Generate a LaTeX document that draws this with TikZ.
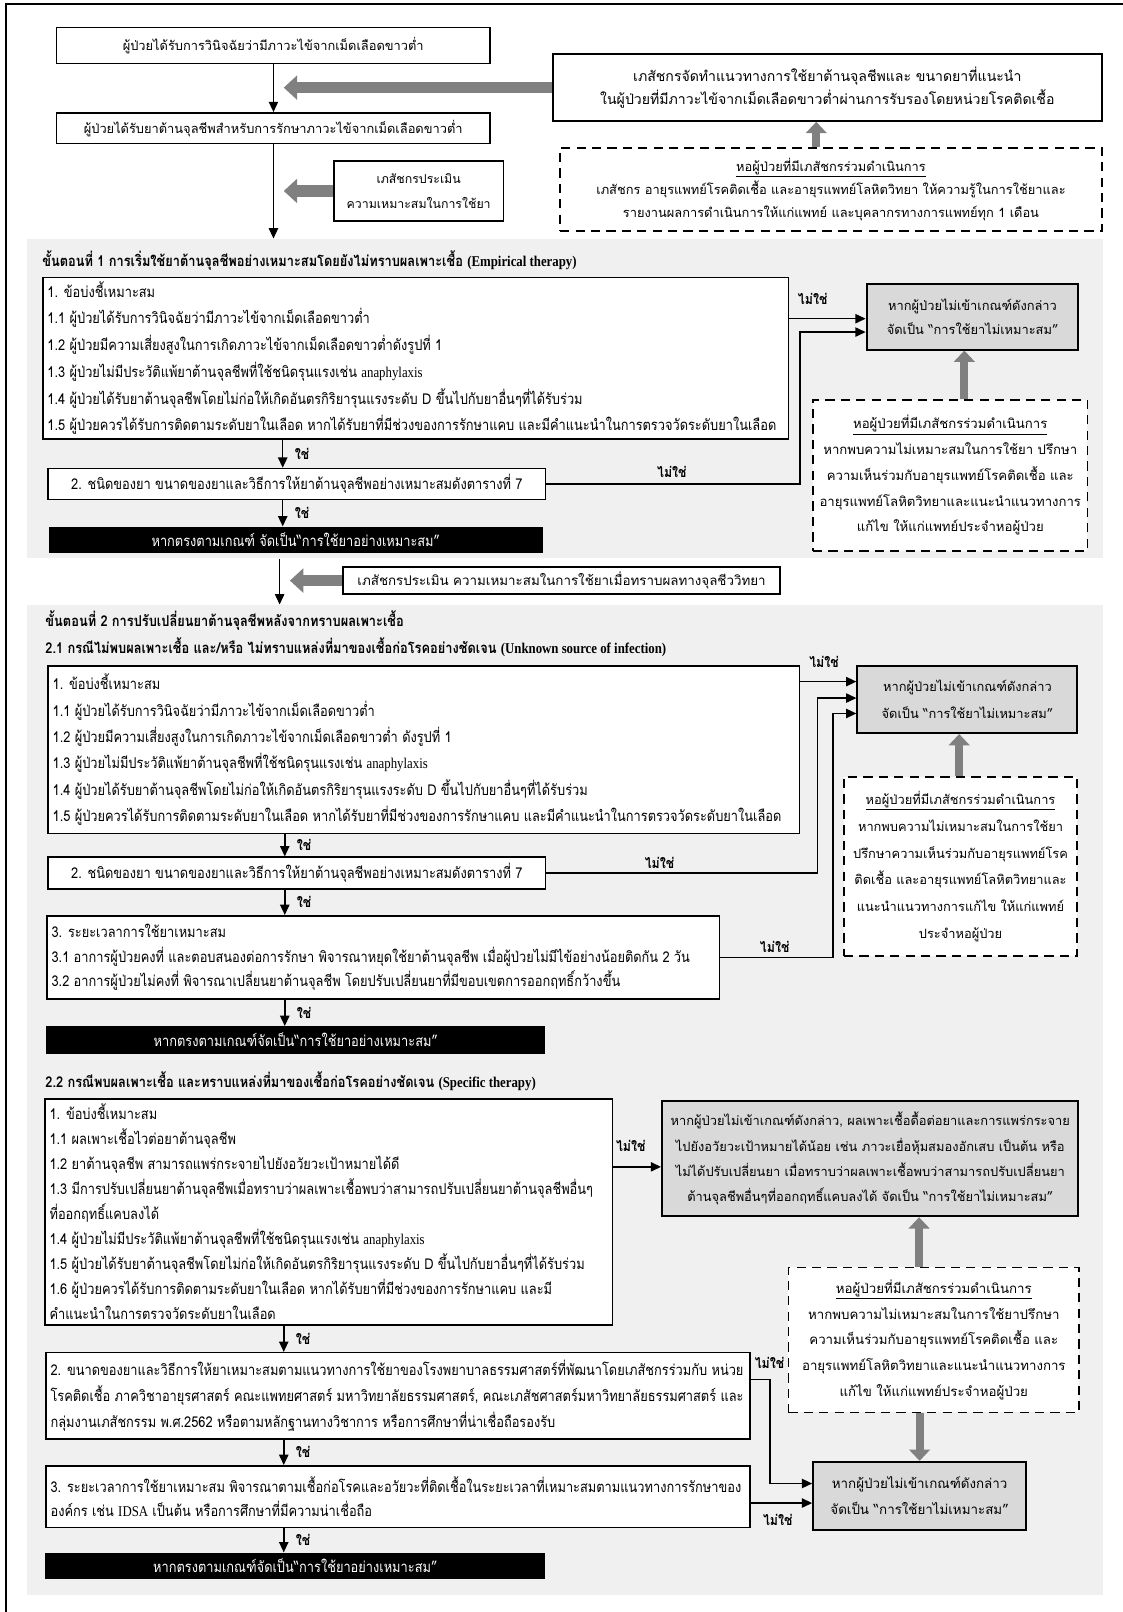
\documentclass[tikz,border=0pt]{standalone}
\usepackage{fontspec}
\setmainfont{Loma}[Script=Thai, FakeStretch=0.86]
\newfontfamily\widefam{Loma}[Script=Thai]
\newfontfamily\enf{Liberation Serif}[FakeStretch=0.86]
\usetikzlibrary{arrows.meta}
\definecolor{secbgc}{HTML}{F0F0F0}
\definecolor{gboxc}{HTML}{D9D9D9}
\definecolor{garrc}{HTML}{808080}
\newcommand\en[1]{{\enf #1}}
\newcommand\bodyf{\fontsize{14.5}{26}\selectfont}
\newcommand\widef{\widefam\fontsize{12.5}{22}\selectfont}
\newcommand\lblf{\bfseries\fontsize{14}{16}\selectfont}
\begin{document}
\begin{tikzpicture}[x=1pt,y=-1pt,
  secbg/.style={fill=secbgc, anchor=north west, inner sep=0pt},
  box/.style={draw, line width=1.5pt, fill=white, inner sep=0pt, anchor=north west},
  btext/.style={anchor=west, inner sep=0pt, align=left},
  cbox/.style={draw, line width=1.5pt, fill=white, inner sep=2pt, anchor=north west, font=\bodyf, align=center},
  wbox/.style={draw, line width=1.5pt, fill=white, inner sep=2pt, anchor=north west, font=\widef, align=center},
  gbox/.style={draw, line width=2pt, fill=gboxc, inner sep=2pt, anchor=north west, align=center},
  dbox/.style={draw, line width=1.6pt, dash pattern=on 9pt off 6pt, fill=white, inner sep=2pt, anchor=north west, align=center},
  bbox/.style={fill=black, text=white, inner sep=2pt, anchor=north west, font=\bodyf, align=center},
  arr/.style={line width=1.5pt, -{Triangle[length=10pt,width=9pt]}},
  garr/.style={draw=garrc, line width=8pt, -{Triangle[length=11pt,width=20pt]}},
  garrh/.style={draw=garrc, line width=11pt, -{Triangle[length=13pt,width=23pt]}},
  lbl/.style={font=\lblf, anchor=west, inner sep=1pt},
  ttl/.style={font=\bfseries\bodyf, anchor=west, inner sep=0pt},
]
\useasboundingbox (0,0) rectangle (1092,1568);
\fill[white] (0,0) rectangle (1092,1568);
\draw[line width=1.8pt] (6,4) rectangle (1110,1590);

% ---------- top part ----------
\coordinate (a0) at (266,0);
\coordinate (g0) at (276,0);
\node[wbox, minimum width=422, minimum height=35] (A) at (54,26) {ผู้ป่วยได้รับการวินิจฉัยว่ามีภาวะไข้จากเม็ดเลือดขาวต่ำ};
\node[wbox, minimum width=422, minimum height=30] (B) at (54,109) {ผู้ป่วยได้รับยาต้านจุลชีพสำหรับการรักษาภาวะไข้จากเม็ดเลือดขาวต่ำ};
\node[wbox, minimum width=534, minimum height=65, font=\widefam\fontsize{13.7}{22}\selectfont] (C) at (537,52) {เภสัชกรจัดทำแนวทางการใช้ยาต้านจุลชีพและ ขนาดยาที่แนะนำ\\ในผู้ป่วยที่มีภาวะไข้จากเม็ดเลือดขาวต่ำผ่านการรับรองโดยหน่วยโรคติดเชื้อ};
\node[dbox, minimum width=527, minimum height=81, font=\widef] (D) at (544,143) {\underline{หอผู้ป่วยที่มีเภสัชกรร่วมดำเนินการ}\\เภสัชกร อายุรแพทย์โรคติดเชื้อ และอายุรแพทย์โลหิตวิทยา ให้ความรู้ในการใช้ยาและ\\รายงานผลการดำเนินการให้แก่แพทย์ และบุคลากรทางการแพทย์ทุก 1 เดือน};
\node[wbox, minimum width=165, minimum height=58, font=\widefam\fontsize{12}{24}\selectfont] (E) at (324,156) {เภสัชกรประเมิน\\ความเหมาะสมในการใช้ยา};

% ---------- section 1 ----------
\coordinate (a1) at (275,0);
\node[secbg, minimum width=1047, minimum height=311] (s1) at (26,232) {};
\node[ttl] (t1) at (41,253) {ขั้นตอนที่ 1 การเริ่มใช้ยาต้านจุลชีพอย่างเหมาะสมโดยยังไม่ทราบผลเพาะเชื้อ \en{(Empirical therapy)}};
\node[box, minimum width=725, minimum height=157] (F) at (41,269) {};
\node[btext, font=\fontsize{14.5}{26}\selectfont] (Ft) at ([xshift=5pt]F.west) {1. ข้อบ่งชี้เหมาะสม\\
1.1 ผู้ป่วยได้รับการวินิจฉัยว่ามีภาวะไข้จากเม็ดเลือดขาวต่ำ\\
1.2 ผู้ป่วยมีความเสี่ยงสูงในการเกิดภาวะไข้จากเม็ดเลือดขาวต่ำดังรูปที่ 1\\
1.3 ผู้ป่วยไม่มีประวัติแพ้ยาต้านจุลชีพที่ใช้ชนิดรุนแรงเช่น \en{anaphylaxis}\\
1.4 ผู้ป่วยได้รับยาต้านจุลชีพโดยไม่ก่อให้เกิดอันตรกิริยารุนแรงระดับ D ขึ้นไปกับยาอื่นๆที่ได้รับร่วม\\
1.5 ผู้ป่วยควรได้รับการติดตามระดับยาในเลือด หากได้รับยาที่มีช่วงของการรักษาแคบ และมีคำแนะนำในการตรวจวัดระดับยาในเลือด};
\node[cbox, minimum width=484, minimum height=30] (G) at (46,455) {2. ชนิดของยา ขนาดของยาและวิธีการให้ยาต้านจุลชีพอย่างเหมาะสมดังตารางที่ 7};
\node[bbox, minimum width=481, minimum height=26] (H) at (47,512) {หากตรงตามเกณฑ์ จัดเป็น“การใช้ยาอย่างเหมาะสม”};
\node[gbox, minimum width=206, minimum height=64, font=\widefam\fontsize{12.5}{24}\selectfont] (I) at (842,275) {หากผู้ป่วยไม่เข้าเกณฑ์ดังกล่าว\\จัดเป็น “การใช้ยาไม่เหมาะสม”};
\node[dbox, minimum width=267, minimum height=147, font=\widefam\fontsize{12.8}{25}\selectfont] (J) at (790,388) {\underline{หอผู้ป่วยที่มีเภสัชกรร่วมดำเนินการ}\\หากพบความไม่เหมาะสมในการใช้ยา ปรึกษา\\ความเห็นร่วมกับอายุรแพทย์โรคติดเชื้อ และ\\อายุรแพทย์โลหิตวิทยาและแนะนำแนวทางการ\\แก้ไข ให้แก่แพทย์ประจำหอผู้ป่วย};

\draw[arr] (A.south -| a0) -- (B.north -| a0);
\draw[arr] (B.south -| a0) -- (s1.north -| a0);
\draw[garrh] (C.west) -- (g0 |- C.west);
\draw[garrh] (E.west) -- (g0 |- E.west);
\coordinate (gd) at (794,0);
\draw[garr] (D.north -| gd) -- (C.south -| gd);

\draw[arr] (F.south -| a1) -- (G.north -| a1) node[lbl, midway, xshift=10pt] (y1) {ใช่};
\draw[arr] (G.south -| a1) -- (H.north -| a1) node[lbl, midway, xshift=10pt] (y2) {ใช่};
\coordinate (i1) at (842,310);
\coordinate (i2) at (842,323);
\coordinate (b1) at (778,0);
\draw[arr] (F.east |- i1) -- (i1);
\node[lbl] (n1) at (775,291) {ไม่ใช่};
\draw[arr] (G.east) -| (b1 |- i2) -- (i2);
\node[lbl] (n2) at (638,459) {ไม่ใช่};
\coordinate (gj) at (938,0);
\draw[garr] (J.north -| gj) -- (I.south -| gj);

% ---------- between ----------
\coordinate (a2) at (272,0);
\coordinate (g2) at (282,0);
\node[wbox, minimum width=425, minimum height=26, font=\widefam\fontsize{13}{22}\selectfont] (K) at (333,551) {เภสัชกรประเมิน ความเหมาะสมในการใช้ยาเมื่อทราบผลทางจุลชีววิทยา};

% ---------- section 2 ----------
\node[secbg, minimum width=1047, minimum height=963] (s2) at (26,588) {};
\draw[arr] (s1.south -| a2) -- (s2.north -| a2);
\draw[garrh] (K.west) -- (g2 |- K.west);
\node[ttl] (t2) at (44,604) {ขั้นตอนที่ 2 การปรับเปลี่ยนยาต้านจุลชีพหลังจากทราบผลเพาะเชื้อ};
\node[ttl] (t21) at (44,630) {2.1 กรณีไม่พบผลเพาะเชื้อ และ/หรือ ไม่ทราบแหล่งที่มาของเชื้อก่อโรคอย่างชัดเจน \en{(Unknown source of infection)}};
\coordinate (a3) at (277,0);
\node[box, minimum width=731, minimum height=163] (L) at (46,647) {};
\node[btext, font=\fontsize{14.5}{25.6}\selectfont] (Lt) at ([xshift=5pt]L.west) {1. ข้อบ่งชี้เหมาะสม\\
1.1 ผู้ป่วยได้รับการวินิจฉัยว่ามีภาวะไข้จากเม็ดเลือดขาวต่ำ\\
1.2 ผู้ป่วยมีความเสี่ยงสูงในการเกิดภาวะไข้จากเม็ดเลือดขาวต่ำ ดังรูปที่ 1\\
1.3 ผู้ป่วยไม่มีประวัติแพ้ยาต้านจุลชีพที่ใช้ชนิดรุนแรงเช่น \en{anaphylaxis}\\
1.4 ผู้ป่วยได้รับยาต้านจุลชีพโดยไม่ก่อให้เกิดอันตรกิริยารุนแรงระดับ D ขึ้นไปกับยาอื่นๆที่ได้รับร่วม\\
1.5 ผู้ป่วยควรได้รับการติดตามระดับยาในเลือด หากได้รับยาที่มีช่วงของการรักษาแคบ และมีคำแนะนำในการตรวจวัดระดับยาในเลือด};
\node[cbox, minimum width=484, minimum height=31] (M) at (46,833) {2. ชนิดของยา ขนาดของยาและวิธีการให้ยาต้านจุลชีพอย่างเหมาะสมดังตารางที่ 7};
\node[box, minimum width=654, minimum height=81] (N) at (45,890) {};
\node[btext, font=\fontsize{14.5}{24}\selectfont] (Nt) at ([xshift=5pt]N.west) {3. ระยะเวลาการใช้ยาเหมาะสม\\
3.1 อาการผู้ป่วยคงที่ และตอบสนองต่อการรักษา พิจารณาหยุดใช้ยาต้านจุลชีพ เมื่อผู้ป่วยไม่มีไข้อย่างน้อยติดกัน 2 วัน\\
3.2 อาการผู้ป่วยไม่คงที่ พิจารณาเปลี่ยนยาต้านจุลชีพ โดยปรับเปลี่ยนยาที่มีขอบเขตการออกฤทธิ์กว้างขึ้น};
\node[bbox, minimum width=485, minimum height=27] (O) at (45,998) {หากตรงตามเกณฑ์จัดเป็น“การใช้ยาอย่างเหมาะสม”};
\node[gbox, minimum width=214, minimum height=65, font=\widefam\fontsize{12.5}{26}\selectfont] (P) at (833,647) {หากผู้ป่วยไม่เข้าเกณฑ์ดังกล่าว\\จัดเป็น “การใช้ยาไม่เหมาะสม”};
\node[dbox, minimum width=227, minimum height=174, font=\widefam\fontsize{12.5}{26}\selectfont] (Q) at (820,755) {\underline{หอผู้ป่วยที่มีเภสัชกรร่วมดำเนินการ}\\หากพบความไม่เหมาะสมในการใช้ยา\\ปรึกษาความเห็นร่วมกับอายุรแพทย์โรค\\ติดเชื้อ และอายุรแพทย์โลหิตวิทยาและ\\แนะนำแนวทางการแก้ไข ให้แก่แพทย์\\ประจำหอผู้ป่วย};

\draw[arr] (L.south -| a3) -- (M.north -| a3) node[lbl, midway, xshift=10pt] (y3) {ใช่};
\draw[arr] (M.south -| a3) -- (N.north -| a3) node[lbl, midway, xshift=10pt] (y4) {ใช่};
\draw[arr] (N.south -| a3) -- (O.north -| a3) node[lbl, midway, xshift=10pt] (y5) {ใช่};
\coordinate (p1) at (833,663);
\coordinate (p2) at (833,679);
\coordinate (p3) at (833,694);
\coordinate (b2) at (795,0);
\coordinate (b3) at (810,0);
\draw[arr] (L.east |- p1) -- (p1);
\node[lbl] (n3) at (786,644) {ไม่ใช่};
\draw[arr] (M.east) -| (b2 |- p2) -- (p2);
\node[lbl] (n4) at (626,839) {ไม่ใช่};
\draw[arr] (N.east) -| (b3 |- p3) -- (p3);
\node[lbl] (n5) at (738,921) {ไม่ใช่};
\coordinate (gq) at (933,0);
\draw[garr] (Q.north -| gq) -- (P.south -| gq);

% ---------- 2.2 ----------
\node[ttl] (t22) at (44,1052) {2.2 กรณีพบผลเพาะเชื้อ และทราบแหล่งที่มาของเชื้อก่อโรคอย่างชัดเจน \en{(Specific therapy)}};
\coordinate (a4) at (276,0);
\node[box, minimum width=552, minimum height=220] (R) at (43,1068) {};
\node[btext, font=\fontsize{14.5}{24.3}\selectfont] (Rt) at ([xshift=5pt]R.west) {1. ข้อบ่งชี้เหมาะสม\\
1.1 ผลเพาะเชื้อไวต่อยาต้านจุลชีพ\\
1.2 ยาต้านจุลชีพ สามารถแพร่กระจายไปยังอวัยวะเป้าหมายได้ดี\\
1.3 มีการปรับเปลี่ยนยาต้านจุลชีพเมื่อทราบว่าผลเพาะเชื้อพบว่าสามารถปรับเปลี่ยนยาต้านจุลชีพอื่นๆ\\
ที่ออกฤทธิ์แคบลงได้\\
1.4 ผู้ป่วยไม่มีประวัติแพ้ยาต้านจุลชีพที่ใช้ชนิดรุนแรงเช่น \en{anaphylaxis}\\
1.5 ผู้ป่วยได้รับยาต้านจุลชีพโดยไม่ก่อให้เกิดอันตรกิริยารุนแรงระดับ D ขึ้นไปกับยาอื่นๆที่ได้รับร่วม\\
1.6 ผู้ป่วยควรได้รับการติดตามระดับยาในเลือด หากได้รับยาที่มีช่วงของการรักษาแคบ และมี\\
คำแนะนำในการตรวจวัดระดับยาในเลือด};
\node[gbox, minimum width=405, minimum height=112, font=\widefam\fontsize{12.5}{24.5}\selectfont] (S) at (643,1070) {หากผู้ป่วยไม่เข้าเกณฑ์ดังกล่าว, ผลเพาะเชื้อดื้อต่อยาและการแพร่กระจาย\\ไปยังอวัยวะเป้าหมายได้น้อย เช่น ภาวะเยื่อหุ้มสมองอักเสบ เป็นต้น หรือ\\ไม่ได้ปรับเปลี่ยนยา เมื่อทราบว่าผลเพาะเชื้อพบว่าสามารถปรับเปลี่ยนยา\\ต้านจุลชีพอื่นๆที่ออกฤทธิ์แคบลงได้ จัดเป็น “การใช้ยาไม่เหมาะสม”};
\node[dbox, minimum width=283, minimum height=141, font=\widefam\fontsize{12.9}{25}\selectfont] (T) at (766,1232) {\underline{หอผู้ป่วยที่มีเภสัชกรร่วมดำเนินการ}\\หากพบความไม่เหมาะสมในการใช้ยาปรึกษา\\ความเห็นร่วมกับอายุรแพทย์โรคติดเชื้อ และ\\อายุรแพทย์โลหิตวิทยาและแนะนำแนวทางการ\\แก้ไข ให้แก่แพทย์ประจำหอผู้ป่วย};
\node[box, minimum width=685, minimum height=84] (V) at (44,1315) {};
\node[btext, font=\fontsize{14.5}{25}\selectfont] (Vt) at ([xshift=5pt]V.west) {2. ขนาดของยาและวิธีการให้ยาเหมาะสมตามแนวทางการใช้ยาของโรงพยาบาลธรรมศาสตร์ที่พัฒนาโดยเภสัชกรร่วมกับ หน่วย\\
โรคติดเชื้อ ภาควิชาอายุรศาสตร์ คณะแพทยศาสตร์ มหาวิทยาลัยธรรมศาสตร์, คณะเภสัชศาสตร์มหาวิทยาลัยธรรมศาสตร์ และ\\
กลุ่มงานเภสัชกรรม พ.ศ.2562 หรือตามหลักฐานทางวิชาการ หรือการศึกษาที่น่าเชื่อถือรองรับ};
\node[box, minimum width=685, minimum height=60] (W) at (44,1425) {};
\node[btext, font=\fontsize{14.5}{23.5}\selectfont] (Wt) at ([xshift=5pt]W.west) {3. ระยะเวลาการใช้ยาเหมาะสม พิจารณาตามเชื้อก่อโรคและอวัยวะที่ติดเชื้อในระยะเวลาที่เหมาะสมตามแนวทางการรักษาของ\\
องค์กร เช่น \en{IDSA} เป็นต้น หรือการศึกษาที่มีความน่าเชื่อถือ};
\node[bbox, minimum width=486, minimum height=26] (X) at (44,1510) {หากตรงตามเกณฑ์จัดเป็น“การใช้ยาอย่างเหมาะสม”};
\node[gbox, minimum width=207, minimum height=66, font=\widefam\fontsize{13}{25}\selectfont] (U) at (790,1421) {หากผู้ป่วยไม่เข้าเกณฑ์ดังกล่าว\\จัดเป็น “การใช้ยาไม่เหมาะสม”};

\draw[arr] (R.south -| a4) -- (V.north -| a4) node[lbl, midway, xshift=10pt] (y6) {ใช่};
\draw[arr] (V.south -| a4) -- (W.north -| a4) node[lbl, midway, xshift=10pt] (y7) {ใช่};
\draw[arr] (W.south -| a4) -- (X.north -| a4) node[lbl, midway, xshift=10pt] (y8) {ใช่};
\coordinate (sr) at (643,1135);
\draw[arr] (R.east |- sr) -- (sr);
\node[lbl] (n6) at (598,1115) {ไม่ใช่};
\coordinate (gt) at (894,0);
\draw[garr] (T.north -| gt) -- (S.south -| gt);
\draw[garr] (T.south -| U.north) -- (U.north);
\coordinate (u1) at (790,1443);
\coordinate (u2) at (790,1462);
\coordinate (b4) at (749,0);
\coordinate (v1) at (729,1342);
\draw[arr] (v1) -| (b4 |- u1) -- (u1);
\node[lbl] (n7) at (733,1326) {ไม่ใช่};
\draw[arr] (W.east |- u2) -- (u2);
\node[lbl] (n8) at (741,1478) {ไม่ใช่};
\end{tikzpicture}
\end{document}
